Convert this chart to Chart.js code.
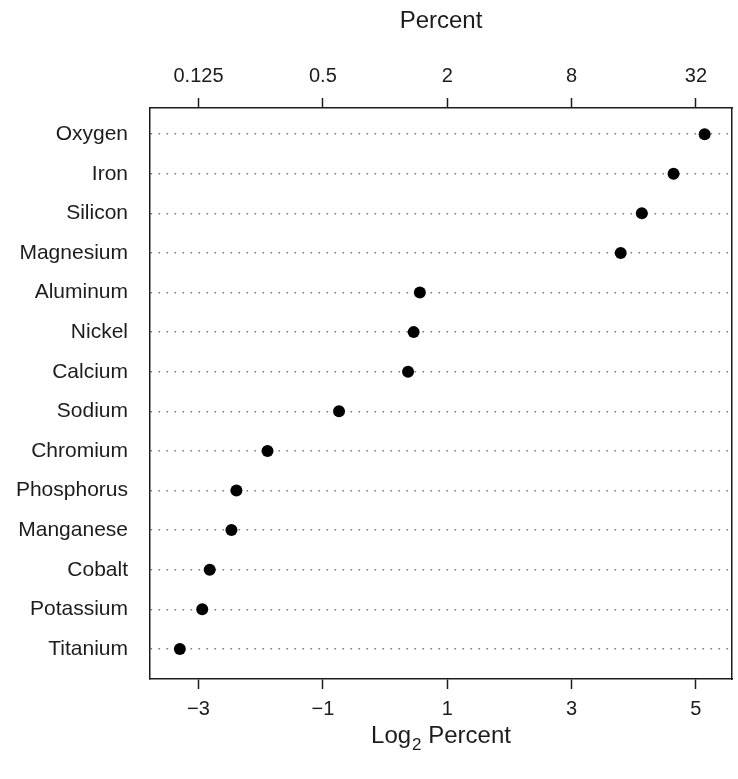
<!DOCTYPE html>
<html>
<head>
<meta charset="utf-8">
<script src="https://cdn.jsdelivr.net/npm/chart.js@4.4.1/dist/chart.umd.min.js"></script>
<style>
  body { margin: 0; background: #fff; }
  canvas { display: block; }
</style>
</head>
<body>
<canvas id="chart_dot" width="738" height="779"></canvas>
<script>
let elements = ['Oxygen', 'Iron', 'Silicon', 'Magnesium', 'Aluminum', 'Nickel', 'Calcium',
  'Sodium', 'Chromium', 'Phosphorus', 'Manganese', 'Cobalt', 'Potassium', 'Titanium'];
let log2Percent = [5.14, 4.64, 4.13, 3.79, 0.56, 0.46, 0.37, -0.74, -1.89, -2.39, -2.47, -2.82, -2.94, -3.30];
let tickValues = [-3, -1, 1, 3, 5];
let log2Labels = ['\u22123', '\u22121', '1', '3', '5'];
let percentLabels = ['0.125', '0.5', '2', '8', '32'];

let font = "'Liberation Sans', Arial, Helvetica, sans-serif";
let ink = '#1c1c1c';
let xMin = -3.78, xMax = 5.58;
let yMin = -0.66, yMax = 13.76;

// bottom title with a real subscript
let log2Title = {
    id: 'log2Title',
    afterDraw(chart) {
        let ctx = chart.ctx;
        let area = chart.chartArea;
        let big = '24px ' + font, small = '17px ' + font;
        ctx.save();
        ctx.fillStyle = ink;
        ctx.textBaseline = 'alphabetic';
        ctx.font = big;
        let w1 = ctx.measureText('Log').width;
        let w3 = ctx.measureText(' Percent').width;
        ctx.font = small;
        let w2 = ctx.measureText('2').width + 1;
        let x = (area.left + area.right) / 2 - (w1 + w2 + w3) / 2;
        let base = 743;
        ctx.font = big;
        ctx.fillText('Log', x, base);
        ctx.font = small;
        ctx.fillText('2', x + w1 + 1, base + 7);
        ctx.font = big;
        ctx.fillText(' Percent', x + w1 + w2, base);
        ctx.restore();
    }
};

let setTicks = (values) => (scale) => {
    scale.ticks = values.map(v => ({ value: v }));
};

let ctx_dot = document.getElementById('chart_dot');

let chart_dot = new Chart(ctx_dot, {
    type: 'scatter',
    data: {
        datasets: [{
            label: 'Log2 Percent',
            data: log2Percent.map((v, i) => ({ x: v, y: i })),
            backgroundColor: '#000',
            borderWidth: 0,
            pointRadius: 6,
            pointHoverRadius: 6
        }]
    },
    options: {
        maintainAspectRatio: false,
        responsive: false,
        animation: false,
        layout: { padding: 0 },
        plugins: {
            legend: { display: false },
            tooltip: { enabled: false }
        },
        scales: {
            x: {
                type: 'linear',
                position: 'bottom',
                min: xMin,
                max: xMax,
                afterBuildTicks: setTicks(tickValues),
                afterFit: (s) => { s.height = 100; },
                grid: { drawOnChartArea: false, drawTicks: true, tickLength: 10, tickColor: ink, tickWidth: 1.5 },
                border: { color: ink, width: 1.5 },
                ticks: {
                    padding: 8,
                    color: ink,
                    font: { family: font, size: 20 },
                    maxRotation: 0,
                    callback: (v) => log2Labels[tickValues.indexOf(v)]
                }
            },
            x2: {
                type: 'linear',
                position: 'top',
                min: xMin,
                max: xMax,
                afterBuildTicks: setTicks(tickValues),
                afterFit: (s) => { s.height = 108; },
                grid: { drawOnChartArea: false, drawTicks: true, tickLength: 10, tickColor: ink, tickWidth: 1.5 },
                border: { color: ink, width: 1.5 },
                title: {
                    display: true,
                    text: 'Percent',
                    color: ink,
                    font: { family: font, size: 24 },
                    padding: { top: 7, bottom: 0 }
                },
                ticks: {
                    padding: 10,
                    color: ink,
                    font: { family: font, size: 20 },
                    maxRotation: 0,
                    callback: (v) => percentLabels[tickValues.indexOf(v)]
                }
            },
            y: {
                type: 'linear',
                position: 'left',
                reverse: true,
                min: yMin,
                max: yMax,
                afterBuildTicks: setTicks(elements.map((e, i) => i)),
                afterFit: (s) => { s.width = 150; },
                grid: { drawTicks: false, color: '#7a7a7a', lineWidth: 1.6 },
                border: { color: ink, width: 1.5, dash: [1.6, 6.4] },
                ticks: {
                    padding: 22,
                    color: ink,
                    font: { family: font, size: 21 },
                    callback: (v) => elements[v]
                }
            },
            y2: {
                type: 'linear',
                position: 'right',
                min: yMin,
                max: yMax,
                afterFit: (s) => { s.width = 5; },
                grid: { display: false },
                border: { color: ink, width: 1.5 },
                ticks: { display: false }
            }
        }
    },
    plugins: [log2Title]
});
</script>
</body>
</html>
